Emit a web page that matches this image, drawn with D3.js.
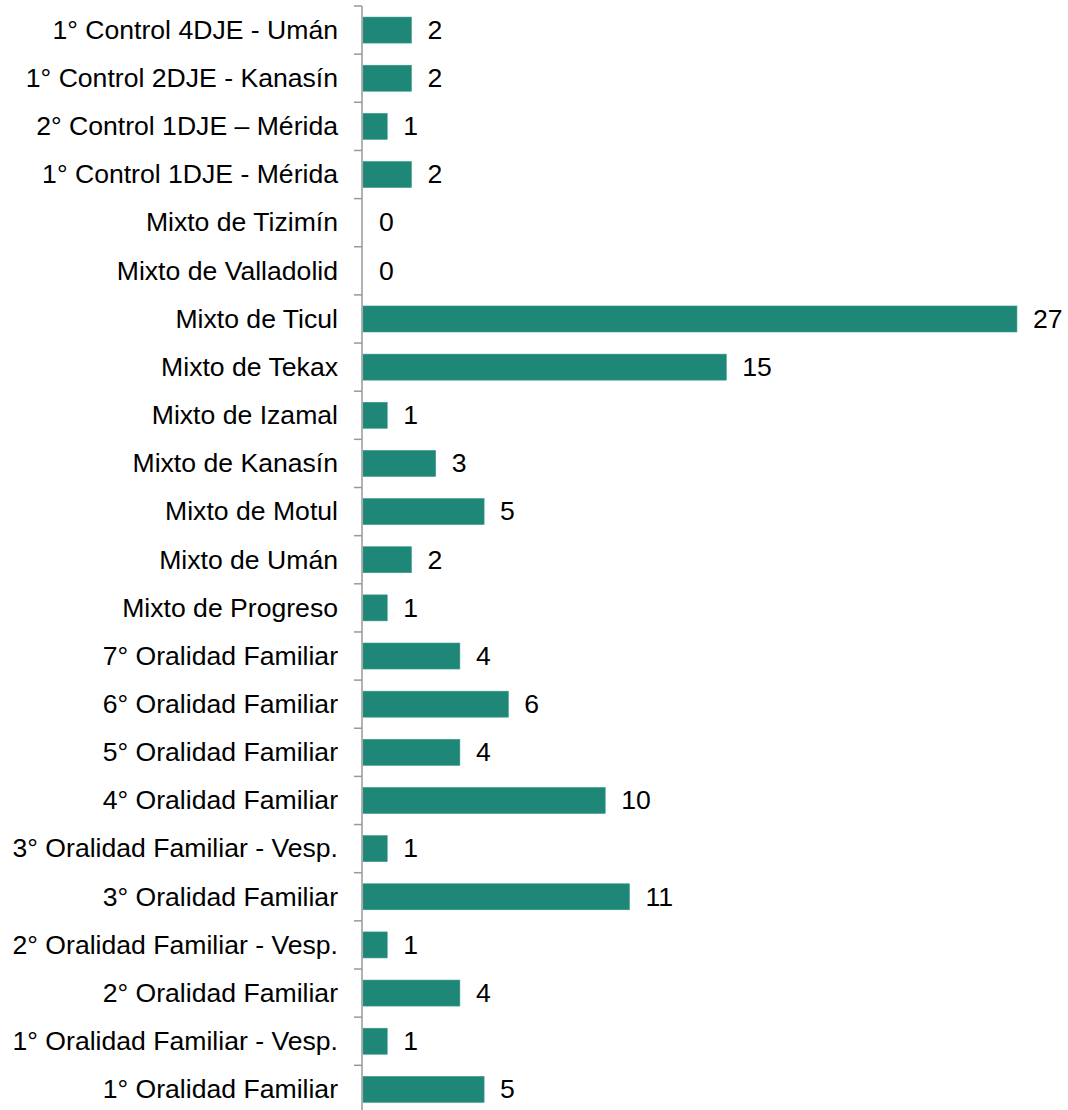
<!DOCTYPE html>
<html>
<head>
<meta charset="utf-8">
<script src="https://cdn.jsdelivr.net/npm/d3@7"></script>
<style>
  body { margin: 0; background: #fff; }
  text { font-family: "Liberation Sans", Arial, sans-serif; }
</style>
</head>
<body>
<script>
// Data (top to bottom)
const categories = [
  '1° Control 4DJE - Umán',
  '1° Control 2DJE - Kanasín',
  '2° Control 1DJE – Mérida',
  '1° Control 1DJE - Mérida',
  'Mixto de Tizimín',
  'Mixto de Valladolid',
  'Mixto de Ticul',
  'Mixto de Tekax',
  'Mixto de Izamal',
  'Mixto de Kanasín',
  'Mixto de Motul',
  'Mixto de Umán',
  'Mixto de Progreso',
  '7° Oralidad Familiar',
  '6° Oralidad Familiar',
  '5° Oralidad Familiar',
  '4° Oralidad Familiar',
  '3° Oralidad Familiar - Vesp.',
  '3° Oralidad Familiar',
  '2° Oralidad Familiar - Vesp.',
  '2° Oralidad Familiar',
  '1° Oralidad Familiar - Vesp.',
  '1° Oralidad Familiar'
];
const values = [2, 2, 1, 2, 0, 0, 27, 15, 1, 3, 5, 2, 1, 4, 6, 4, 10, 1, 11, 1, 4, 1, 5];

const width = 1068;
const height = 1110;
const marginLeft = 363;
const marginTop = 6;

const svg = d3.select('body')
.append('svg')
.attr('width', width)
.attr('height', height);

const yScale = d3.scaleBand()
.domain(categories)
.range([marginTop, marginTop + 48.15 * categories.length])
.paddingInner(0.46)
.paddingOuter(0.23);

const xScale = d3.scaleLinear()
.domain([0, 27])
.range([marginLeft, marginLeft + 27 * 24.22]);

// bars
svg.selectAll('rect.bar')
.data(values)
.enter()
.append('rect')
.attr('class', 'bar')
.attr('x', xScale(0))
.attr('y', (d, i) => yScale(categories[i]))
.attr('width', d => xScale(d) - xScale(0))
.attr('height', yScale.bandwidth())
.attr('fill', '#1e8777')
.attr('stroke', '#3a9a8a')
.attr('stroke-width', 0.6);

// value labels
svg.selectAll('text.val')
.data(values)
.enter()
.append('text')
.attr('class', 'val')
.text(d => d)
.attr('x', d => xScale(d) + 16)
.attr('y', (d, i) => yScale(categories[i]) + yScale.bandwidth() / 2)
.attr('dy', '0.33em')
.attr('font-size', '26.6px')
.attr('fill', '#000');

// category axis
const axis = svg.append('g');
axis.append('line')
.attr('x1', marginLeft - 1)
.attr('x2', marginLeft - 1)
.attr('y1', marginTop)
.attr('y2', height)
.attr('stroke', '#999')
.attr('stroke-width', 1.5);

const step = yScale.step();
axis.selectAll('line.tick')
.data(d3.range(categories.length + 1))
.enter()
.append('line')
.attr('class', 'tick')
.attr('x1', marginLeft - 9)
.attr('x2', marginLeft - 1)
.attr('y1', i => marginTop + i * step)
.attr('y2', i => marginTop + i * step)
.attr('stroke', '#999')
.attr('stroke-width', 1.5);

axis.selectAll('text.cat')
.data(categories)
.enter()
.append('text')
.attr('class', 'cat')
.text(d => d)
.attr('x', 338)
.attr('y', d => yScale(d) + yScale.bandwidth() / 2)
.attr('dy', '0.33em')
.attr('text-anchor', 'end')
.attr('font-size', '26.6px')
.attr('fill', '#000');
</script>
</body>
</html>
